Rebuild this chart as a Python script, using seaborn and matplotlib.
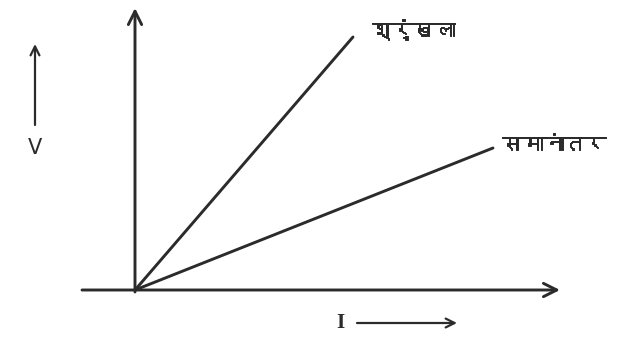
import matplotlib
matplotlib.use('Agg')
import matplotlib.pyplot as plt
import matplotlib.patheffects as pe
from matplotlib import font_manager
from matplotlib.ft2font import FT2Font
import seaborn as sns
import pandas as pd

sns.set_style('white')

# ── data (origin at 0,0; units) ──────────────────────────────
current = [0.0, 2.18, 0.0, 3.58]
voltage = [0.0, 2.53, 0.0, 1.42]
circuit = ['श्रृंखला', 'श्रृंखला', 'समानांतर', 'समानांतर']
label_series = 'श्रृंखला'
label_parallel = 'समानांतर'
label_v = 'V'
label_i = 'I'

df = pd.DataFrame({'I': current, 'V': voltage, 'circuit': circuit})

# find a font that carries Devanagari glyphs, if one is installed
deva = None
for f in font_manager.fontManager.ttflist:
    try:
        if 0x0938 in FT2Font(f.fname).get_charmap():
            deva = f.name
            break
    except Exception:
        pass
hindi_family = [deva, 'DejaVu Sans'] if deva else ['DejaVu Sans']

ink = '#2b2b2b'
heavy = [pe.withStroke(linewidth=0.7, foreground=ink)]

fig = plt.figure(figsize=(6.24, 3.45), dpi=100)
ax = fig.add_axes([0, 0, 1, 1])
ax.set_xlim(-1.35, 4.89)
ax.set_ylim(-0.55, 2.90)
ax.axis('off')

sns.lineplot(data=df, x='I', y='V', hue='circuit', palette=[ink, ink],
             linewidth=2.1, legend=False, ax=ax, sort=False)

# axes with arrow heads
arrow = dict(arrowstyle='->', color=ink, lw=2.1, mutation_scale=24,
             shrinkA=0, shrinkB=0)
ax.annotate('', xy=(4.25, 0), xytext=(-0.53, 0), arrowprops=arrow)
ax.annotate('', xy=(0, 2.82), xytext=(0, -0.02), arrowprops=arrow)

# line labels
ax.text(2.37, 2.60, label_series, family=hindi_family, fontsize=15,
        fontweight='bold', color=ink, va='center', ha='left', path_effects=heavy)
ax.text(3.67, 1.45, label_parallel, family=hindi_family, fontsize=15,
        fontweight='bold', color=ink, va='center', ha='left', path_effects=heavy)

# V with upward arrow
small = dict(arrowstyle='->', color=ink, lw=1.6, mutation_scale=16,
             shrinkA=0, shrinkB=0)
ax.annotate('', xy=(-1.0, 2.46), xytext=(-1.0, 1.65), arrowprops=small)
ax.text(-1.0, 1.42, label_v, fontsize=15, color=ink, ha='center', va='center')

# I with rightward arrow
ax.text(2.05, -0.33, label_i, family='Liberation Serif', fontsize=15,
        fontweight='bold', color=ink, ha='center', va='center')
ax.annotate('', xy=(3.22, -0.33), xytext=(2.22, -0.33), arrowprops=small)

plt.savefig('out.png', dpi=100)
